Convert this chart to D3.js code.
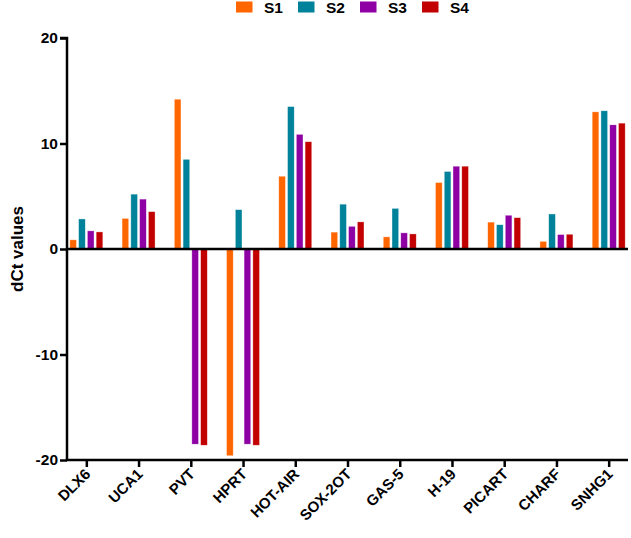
<!DOCTYPE html>
<html><head><meta charset="utf-8">
<script src="https://cdn.jsdelivr.net/npm/d3@7"></script>
<style>body{margin:0;background:#fff}svg{display:block}text{font-family:Arial,"Liberation Sans",sans-serif;font-weight:bold}</style>
</head><body><svg id="c" width="631" height="538"></svg>
<script>
const categories = ["DLX6","UCA1","PVT","HPRT","HOT-AIR","SOX-2OT","GAS-5","H-19","PICART","CHARF","SNHG1"];
const seriesNames = ["S1","S2","S3","S4"];
const S1 = [0.87, 2.9, 14.2, -19.6, 6.9, 1.6, 1.15, 6.3, 2.55, 0.72, 13.0];
const S2 = [2.85, 5.2, 8.5, 3.73, 13.5, 4.25, 3.85, 7.35, 2.3, 3.32, 13.1];
const S3 = [1.72, 4.73, -18.5, -18.5, 10.87, 2.15, 1.53, 7.85, 3.2, 1.37, 11.77];
const S4 = [1.62, 3.54, -18.6, -18.6, 10.17, 2.57, 1.43, 7.85, 2.97, 1.4, 11.93];
const yTicks = [-20,-10,0,10,20];
const colors = ["#FF6600","#00829A","#8E00A4","#C20000"];

const series = [S1,S2,S3,S4];
const svg = d3.select("#c");
const mLeft = 67, mRight = 628, mTop = 38, mBottom = 460;
const y = d3.scaleLinear().domain([-20,20]).range([mBottom, mTop]);
const x = d3.scalePoint().domain(categories).range([mLeft, mRight]).padding(0.37);
const inner = d3.scaleBand().domain(seriesNames).range([-16.5, 16.5]).paddingInner(0.24);

const g = svg.append("g");
categories.forEach((c, i) => {
  series.forEach((s, k) => {
    const v = s[i];
    const x0 = x(c) + inner(seriesNames[k]);
    g.append("rect")
      .attr("x", x0).attr("width", inner.bandwidth())
      .attr("y", Math.min(y(v), y(0))).attr("height", Math.abs(y(v) - y(0)))
      .attr("fill", colors[k]).attr("stroke", "rgba(255,255,255,0.6)").attr("stroke-width", 0.6);
  });
});

// zero line
svg.append("line").attr("x1", mLeft).attr("x2", mRight).attr("y1", y(0)).attr("y2", y(0))
  .attr("stroke", "#000").attr("stroke-width", 2.5);

// y axis
const ya = svg.append("g").attr("transform", `translate(${mLeft},0)`)
  .call(d3.axisLeft(y).tickValues(yTicks).tickSize(7).tickPadding(2).tickFormat(d => String(d)));
ya.select(".domain").attr("stroke-width", 2.5).attr("d", `M-7,${y(20)}H0V${y(-20)}`);
ya.selectAll(".tick line").attr("stroke-width", 2.5);
ya.selectAll("text").attr("font-size", 15.5).attr("fill", "#000").style("font-weight", "bold");

// x axis
const xa = svg.append("g").attr("transform", `translate(0,${mBottom})`)
  .call(d3.axisBottom(x).tickSize(7).tickSizeOuter(0).tickFormat(""));
xa.select(".domain").attr("stroke-width", 2.5).attr("d", `M${mLeft-1.2},0H${mRight}`);
xa.selectAll(".tick line").attr("stroke-width", 2.5);
xa.selectAll(".tick text").remove();
const xl = svg.append("g");
categories.forEach(c => {
  xl.append("text")
    .attr("transform", `translate(${x(c) + 5},${mBottom + 15}) rotate(-45)`)
    .attr("text-anchor", "end").attr("font-size", 15).attr("fill", "#000").text(c);
});

// y title
svg.append("text").attr("transform", `translate(23,${y(0)}) rotate(-90)`)
  .attr("text-anchor", "middle").attr("font-size", 17).attr("fill", "#000").text("dCt values");

// legend
const lg = svg.append("g");
seriesNames.forEach((n, k) => {
  const lx = 236 + k * 62;
  lg.append("rect").attr("x", lx).attr("y", 1.5).attr("width", 16.5).attr("height", 11).attr("fill", colors[k]);
  lg.append("text").attr("x", lx + 28).attr("y", 13).attr("font-size", 15.5).attr("fill", "#000").text(n);
});
</script></body></html>
